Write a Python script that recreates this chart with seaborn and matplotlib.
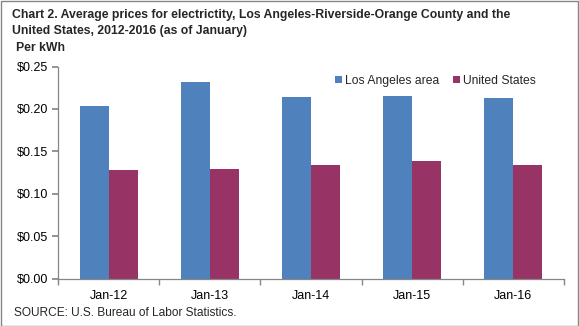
import matplotlib
matplotlib.use("Agg")
import matplotlib.pyplot as plt
from matplotlib.patches import Rectangle
from matplotlib.ticker import FixedLocator, FuncFormatter
import seaborn as sns
import pandas as pd

# Average electricity price per kWh, January of each year
periods = ["Jan-12", "Jan-13", "Jan-14", "Jan-15", "Jan-16"]
la_area = [0.204, 0.232, 0.214, 0.215, 0.213]
us_avg = [0.128, 0.129, 0.134, 0.138, 0.134]
series_names = ["Los Angeles area", "United States"]
y_ticks = [0.00, 0.05, 0.10, 0.15, 0.20, 0.25]

df = pd.DataFrame({
    "period": periods * 2,
    "price": la_area + us_avg,
    "series": [series_names[0]] * len(periods) + [series_names[1]] * len(periods),
})

sns.set_theme(style="white")
plt.rcParams["font.family"] = ["Liberation Sans", "DejaVu Sans"]

W, H = 579, 326
fig = plt.figure(figsize=(W / 100, H / 100), dpi=100)
ax = fig.add_axes([58 / W, (H - 278.5) / H, (564 - 58) / W, (278.5 - 66.5) / H])

palette = {series_names[0]: "#4F81BD", series_names[1]: "#983465"}
sns.barplot(data=df, x="period", y="price", hue="series", order=periods,
            hue_order=series_names, palette=palette, width=0.575,
            saturation=1, errorbar=None, ax=ax, linewidth=0)

ax.set_xlim(-0.5, len(periods) - 0.5)
ax.set_ylim(0, 0.25)
ax.set_yticks(y_ticks)
ax.yaxis.set_major_formatter(FuncFormatter(lambda v, p: f"${v:.2f}"))
ax.set_xlabel("")
ax.set_ylabel("")

axis_col = "#868686"
for side in ["top", "right"]:
    ax.spines[side].set_visible(False)
for side in ["left", "bottom"]:
    ax.spines[side].set_color(axis_col)
    ax.spines[side].set_linewidth(0.9)

ax.xaxis.set_minor_locator(FixedLocator([i - 0.5 for i in range(len(periods) + 1)]))
ax.tick_params(axis="x", which="major", length=0, labelsize=9, pad=8, colors="black")
ax.tick_params(axis="x", which="minor", length=4, color=axis_col, direction="out", bottom=True)
ax.tick_params(axis="y", which="major", length=4, color=axis_col, direction="out",
               left=True, labelsize=9, pad=3, labelcolor="black")
ax.grid(False)

leg = ax.legend(loc="upper right", bbox_to_anchor=(541 / W, (H - 70) / H),
                bbox_transform=fig.transFigure, ncol=2, frameon=False,
                fontsize=8.7, handlelength=0.55, handleheight=0.55, handletextpad=0.3,
                columnspacing=1.1, borderaxespad=0)

title_kw = dict(fontsize=8.8, fontweight="bold", ha="left", va="center")
fig.text(12 / W, 1 - 15 / H,
         "Chart 2. Average prices for electrictity, Los Angeles-Riverside-Orange County and the",
         **title_kw)
fig.text(12 / W, 1 - 31 / H, "United States, 2012-2016 (as of January)", **title_kw)
fig.text(16 / W, 1 - 48 / H, "Per kWh", **title_kw)
fig.text(14 / W, 1 - 313 / H, "SOURCE: U.S. Bureau of Labor Statistics.",
         fontsize=8.6, ha="left", va="center")

fig.patches.append(Rectangle((0.5 / W, 0.5 / H), (W - 1.5) / W, (H - 1.5) / H,
                             transform=fig.transFigure, fill=False,
                             edgecolor="#868686", linewidth=1))

fig.savefig("out.png", dpi=100)
